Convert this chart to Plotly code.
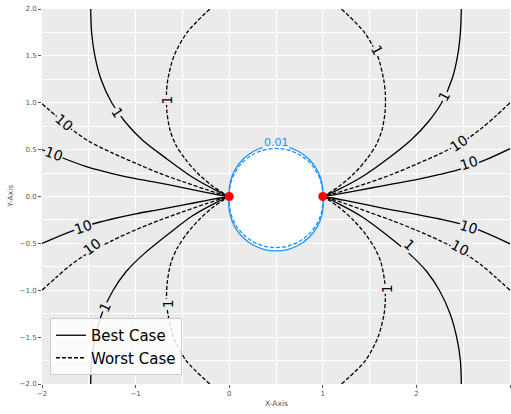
import plotly.graph_objects as go

# ---------------- data ----------------
# sensor points
sensor_x = [0.0, 1.0]
sensor_y = [0.0, 0.0]

# Best case, level 1 (solid black) - four branches
best1_ul_x = [-1.48, -1.47, -1.435, -1.37, -1.255, -1.115, -0.925, -0.665, -0.40, -0.15, 0.0]
best1_ul_y = [2.0, 1.75, 1.5, 1.25, 1.0, 0.8, 0.6, 0.4, 0.21, 0.07, 0.0]
best1_ll_x = [-1.48, -1.47, -1.43, -1.36, -1.24, -1.10, -0.92, -0.65, -0.40, -0.15, 0.0]
best1_ll_y = [-2.0, -1.75, -1.5, -1.25, -1.0, -0.8, -0.62, -0.4, -0.21, -0.07, 0.0]
best1_ur_x = [2.48, 2.47, 2.44, 2.38, 2.27, 2.13, 1.94, 1.69, 1.42, 1.16, 1.0]
best1_ur_y = [2.0, 1.75, 1.5, 1.25, 1.0, 0.8, 0.6, 0.4, 0.21, 0.07, 0.0]
best1_lr_x = [2.48, 2.47, 2.43, 2.36, 2.245, 2.11, 1.935, 1.67, 1.41, 1.155, 1.0]
best1_lr_y = [-2.0, -1.75, -1.5, -1.25, -1.0, -0.8, -0.62, -0.4, -0.21, -0.07, 0.0]

# Worst case, level 1 (dashed black)
worst1_ul_x = [-0.207, -0.45, -0.59, -0.655, -0.67, -0.665, -0.63, -0.57, -0.47, -0.34, -0.19, -0.07, 0.0]
worst1_ul_y = [2.0, 1.75, 1.5, 1.25, 1.1, 0.9, 0.7, 0.55, 0.4, 0.25, 0.12, 0.04, 0.0]
worst1_ll_x = [-0.207, -0.46, -0.595, -0.655, -0.67, -0.66, -0.62, -0.555, -0.455, -0.325, -0.18, -0.065, 0.0]
worst1_ll_y = [-2.0, -1.75, -1.5, -1.25, -1.1, -0.9, -0.7, -0.55, -0.4, -0.25, -0.12, -0.04, 0.0]
worst1_ur_x = [1.2, 1.445, 1.585, 1.65, 1.668, 1.665, 1.63, 1.57, 1.47, 1.34, 1.19, 1.07, 1.0]
worst1_ur_y = [2.0, 1.75, 1.5, 1.25, 1.1, 0.9, 0.7, 0.55, 0.4, 0.25, 0.12, 0.04, 0.0]
worst1_lr_x = [1.2, 1.455, 1.59, 1.655, 1.668, 1.66, 1.62, 1.555, 1.455, 1.325, 1.18, 1.065, 1.0]
worst1_lr_y = [-2.0, -1.75, -1.5, -1.25, -1.1, -0.9, -0.7, -0.55, -0.4, -0.25, -0.12, -0.04, 0.0]

# Best case, level 10 (solid black)
best10_ul_x = [-2.0, -1.75, -1.5, -1.25, -1.0, -0.75, -0.5, -0.25, -0.1, 0.0]
best10_ul_y = [0.5, 0.40, 0.31, 0.245, 0.19, 0.145, 0.095, 0.045, 0.016, 0.0]
best10_ll_x = [-2.0, -1.75, -1.5, -1.25, -1.0, -0.75, -0.5, -0.25, -0.1, 0.0]
best10_ll_y = [-0.5, -0.395, -0.305, -0.24, -0.185, -0.14, -0.092, -0.044, -0.016, 0.0]
best10_ur_x = [3.0, 2.75, 2.5, 2.25, 2.0, 1.75, 1.5, 1.25, 1.1, 1.0]
best10_ur_y = [0.51, 0.395, 0.30, 0.235, 0.18, 0.135, 0.088, 0.042, 0.015, 0.0]
best10_lr_x = [3.0, 2.75, 2.5, 2.25, 2.0, 1.75, 1.5, 1.25, 1.1, 1.0]
best10_lr_y = [-0.505, -0.39, -0.30, -0.24, -0.19, -0.145, -0.095, -0.045, -0.016, 0.0]

# Worst case, level 10 (dashed black)
worst10_ul_x = [-2.0, -1.85, -1.7, -1.5, -1.25, -1.0, -0.75, -0.5, -0.25, -0.1, 0.0]
worst10_ul_y = [0.99, 0.86, 0.73, 0.59, 0.465, 0.355, 0.25, 0.16, 0.075, 0.028, 0.0]
worst10_ll_x = [-2.0, -1.85, -1.7, -1.5, -1.25, -1.0, -0.75, -0.5, -0.25, -0.1, 0.0]
worst10_ll_y = [-1.0, -0.865, -0.735, -0.6, -0.47, -0.356, -0.255, -0.165, -0.078, -0.029, 0.0]
worst10_ur_x = [3.0, 2.85, 2.7, 2.5, 2.25, 2.0, 1.75, 1.5, 1.25, 1.1, 1.0]
worst10_ur_y = [1.0, 0.86, 0.73, 0.585, 0.455, 0.345, 0.24, 0.15, 0.07, 0.026, 0.0]
worst10_lr_x = [3.0, 2.85, 2.7, 2.5, 2.25, 2.0, 1.75, 1.5, 1.25, 1.1, 1.0]
worst10_lr_y = [-1.0, -0.865, -0.735, -0.6, -0.47, -0.36, -0.26, -0.17, -0.08, -0.03, 0.0]

# Level 0.01 closed contours (blue): upper arc A->B, lower arc B->A
best001_up_x = [0.0, -0.002, 0.015, 0.065, 0.145, 0.249, 0.328, 0.357, 0.370, 0.5, 0.630, 0.643, 0.672, 0.751, 0.855, 0.935, 0.985, 1.002, 1.0]
best001_up_y = [0.0, 0.04, 0.17, 0.291, 0.395, 0.475, 0.512, 0.521, 0.525, 0.542, 0.525, 0.521, 0.512, 0.475, 0.395, 0.291, 0.17, 0.04, 0.0]
best001_lo_x = [1.0, 1.0055, 0.988, 0.938, 0.857, 0.753, 0.631, 0.5, 0.369, 0.247, 0.143, 0.062, 0.012, -0.0055, 0.0]
best001_lo_y = [0.0, -0.0745, -0.205, -0.327, -0.432, -0.512, -0.563, -0.58, -0.563, -0.512, -0.432, -0.327, -0.205, -0.0745, 0.0]
worst001_up_x = [0.0, 0.0, 0.017, 0.067, 0.146, 0.25, 0.371, 0.5, 0.629, 0.75, 0.854, 0.933, 0.983, 1.0, 1.0]
worst001_up_y = [0.0, 0.013, 0.142, 0.263, 0.367, 0.446, 0.496, 0.513, 0.496, 0.446, 0.367, 0.263, 0.142, 0.013, 0.0]
worst001_lo_x = [1.0, 1.002, 0.985, 0.935, 0.855, 0.751, 0.63, 0.5, 0.37, 0.249, 0.145, 0.065, 0.015, -0.002, 0.0]
worst001_lo_y = [0.0, -0.043, -0.173, -0.294, -0.398, -0.478, -0.528, -0.545, -0.528, -0.478, -0.398, -0.294, -0.173, -0.043, 0.0]

# contour labels: (x, y, text, angle)
label_x = [-1.87, -1.77, -1.19, -0.67, -1.56, -1.47, -1.33, -0.655, 2.56, 2.46, 2.30, 1.58, 2.56, 2.47, 1.93, 1.685]
label_y = [0.455, 0.79, 0.895, 1.03, -0.32, -0.535, -1.175, -1.14, 0.36, 0.57, 1.07, 1.565, -0.32, -0.55, -0.515, -0.98]
label_text = ["10", "10", "1", "1", "10", "10", "1", "1", "10", "10", "1", "1", "10", "10", "1", "1"]
label_angle = [20, 40, 57, -90, -20, -37, -66, -90, -18, -35, -62, 62, 17, 28, 42, -90]
blue_label_text = "0.01"
blue_label_x = 0.507
blue_label_y = 0.575

legend_names = ["Best Case", "Worst Case"]

# ---------------- figure ----------------
BG = "#EBEBEB"
BLUE = "#1E90FF"
FONT = "DejaVu Sans"

fig = go.Figure()

# white interior of the best-case 0.01 contour
fig.add_trace(go.Scatter(
    x=best001_up_x + best001_lo_x, y=best001_up_y + best001_lo_y,
    mode="lines", fill="toself", fillcolor="white",
    line=dict(width=0, color="white", shape="spline"),
    hoverinfo="skip", showlegend=False))

black_sets = [
    ("solid", [(best1_ul_x, best1_ul_y), (best1_ll_x, best1_ll_y), (best1_ur_x, best1_ur_y), (best1_lr_x, best1_lr_y),
               (best10_ul_x, best10_ul_y), (best10_ll_x, best10_ll_y), (best10_ur_x, best10_ur_y), (best10_lr_x, best10_lr_y)]),
    ("4px,2px", [(worst1_ul_x, worst1_ul_y), (worst1_ll_x, worst1_ll_y), (worst1_ur_x, worst1_ur_y), (worst1_lr_x, worst1_lr_y),
                 (worst10_ul_x, worst10_ul_y), (worst10_ll_x, worst10_ll_y), (worst10_ur_x, worst10_ur_y), (worst10_lr_x, worst10_lr_y)]),
]
for k, (dash, branches) in enumerate(black_sets):
    for j, (bx, by) in enumerate(branches):
        fig.add_trace(go.Scatter(
            x=bx, y=by, mode="lines",
            line=dict(color="black", width=1.3, dash=dash, shape="spline", smoothing=0.8),
            name=legend_names[k], showlegend=(j == 0), hoverinfo="skip"))

# blue 0.01 contours (gap in the solid one where the label sits)
gap_lo, gap_hi = 0.36, 0.64
up_line_x = [xv if not (gap_lo < xv < gap_hi) else None for xv in best001_up_x]
up_line_y = [yv if not (gap_lo < xv < gap_hi) else None for xv, yv in zip(best001_up_x, best001_up_y)]
fig.add_trace(go.Scatter(x=up_line_x, y=up_line_y, mode="lines",
                         line=dict(color=BLUE, width=1.3, shape="spline"),
                         showlegend=False, hoverinfo="skip", connectgaps=False))
fig.add_trace(go.Scatter(x=best001_lo_x, y=best001_lo_y, mode="lines",
                         line=dict(color=BLUE, width=1.3, shape="spline"),
                         showlegend=False, hoverinfo="skip"))
fig.add_trace(go.Scatter(x=worst001_up_x + worst001_lo_x[1:], y=worst001_up_y + worst001_lo_y[1:], mode="lines",
                         line=dict(color=BLUE, width=1.3, dash="4px,2px", shape="spline"),
                         showlegend=False, hoverinfo="skip"))

# sensors
fig.add_trace(go.Scatter(x=sensor_x, y=sensor_y, mode="markers",
                         marker=dict(color="red", size=9, line=dict(width=0)),
                         showlegend=False, hoverinfo="skip", cliponaxis=False))

annotations = []
for lx, ly, lt, la in zip(label_x, label_y, label_text, label_angle):
    annotations.append(dict(x=lx, y=ly, xref="x", yref="y", text=lt, showarrow=False,
                            textangle=la, bgcolor=BG, borderpad=0,
                            font=dict(family=FONT, size=14, color="black")))
annotations.append(dict(x=blue_label_x, y=blue_label_y, xref="x", yref="y", text=blue_label_text,
                        showarrow=False, font=dict(family=FONT, size=11, color=BLUE)))
annotations.append(dict(x=0.5, y=-0.0507, xref="paper", yref="paper", text="X-Axis", showarrow=False,
                        xanchor="center", yanchor="middle", font=dict(family=FONT, size=7.5, color="#555555")))
annotations.append(dict(x=-0.068, y=0.5, xref="paper", yref="paper", text="Y-Axis", showarrow=False,
                        textangle=-90, xanchor="center", yanchor="middle",
                        font=dict(family=FONT, size=7.5, color="#555555")))

fig.update_layout(
    width=511, height=414,
    margin=dict(l=42, r=1, t=9, b=30),
    paper_bgcolor="white", plot_bgcolor=BG,
    font=dict(family=FONT, color="#555555"),
    annotations=annotations,
    legend=dict(x=0.017, y=0.024, xanchor="left", yanchor="bottom", tracegroupgap=0,
                bgcolor="rgba(255,255,255,0.85)", bordercolor="#CCCCCC", borderwidth=1,
                font=dict(family=FONT, size=15, color="black")),
    xaxis=dict(range=[-2, 3], tick0=0, dtick=1, showgrid=True, gridcolor="white", gridwidth=1,
               minor=dict(dtick=0.5, showgrid=True, gridcolor="white", gridwidth=0.7),
               zeroline=False, showline=False, ticks="outside", ticklen=3, tickcolor="#555555",
               tickfont=dict(family=FONT, size=7, color="#555555")),
    yaxis=dict(range=[-2, 2], tick0=0, dtick=0.5, tickformat=".1f", showgrid=True, gridcolor="white", gridwidth=1,
               minor=dict(dtick=0.25, showgrid=True, gridcolor="white", gridwidth=0.7),
               zeroline=False, showline=False, ticks="outside", ticklen=3, tickcolor="#555555",
               tickfont=dict(family=FONT, size=7, color="#555555")),
)

fig.write_html("out.html", config={"displayModeBar": False},
               post_script="document.body.style.margin='0px';document.body.style.padding='0px';")
